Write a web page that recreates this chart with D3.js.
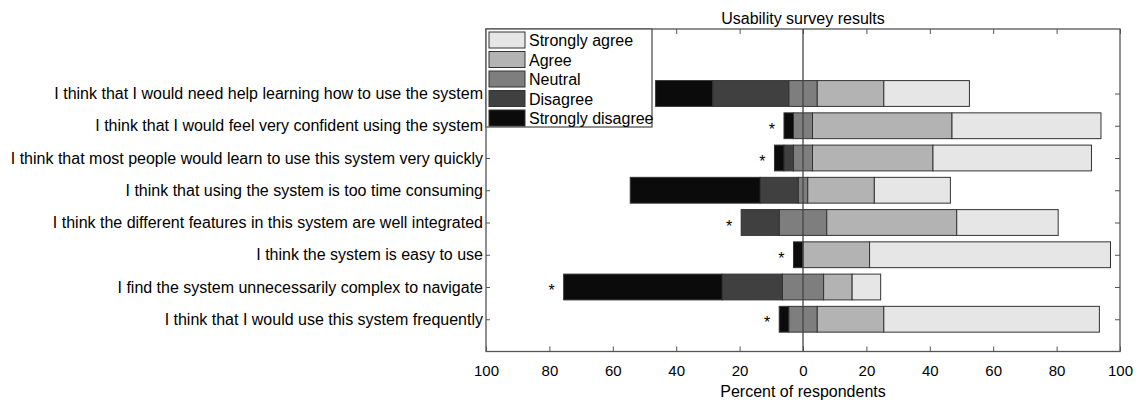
<!DOCTYPE html>
<html lang="en">
<head>
  <meta charset="utf-8" />
  <title>Usability survey results</title>
  <style>
    body {
      margin: 0;
      background: #fff;
      font-family: "Liberation Sans", Arial, sans-serif;
    }
    .bar {
      stroke: #333;
      stroke-width: 1px;
    }
    .tick line {
      stroke: #555;
    }
    .tick text {
      font-size: 15px;
      fill: #000;
    }
    .ylab .tick text {
      font-size: 16px;
    }
  </style>
</head>
<body>
<script src="https://cdn.jsdelivr.net/npm/d3@7"></script>
<script>
  // statements, top to bottom
  const statements = [
    "I think that I would need help learning how to use the system",
    "I think that I would feel very confident using the system",
    "I think that most people would learn to use this system very quickly",
    "I think that using the system is too time consuming",
    "I think the different features in this system are well integrated",
    "I think the system is easy to use",
    "I find the system unnecessarily complex to navigate",
    "I think that I would use this system frequently"
  ];

  // percent of respondents per answer, same order as statements
  const stronglyDisagree = [18, 3, 3, 41, 0, 3, 50, 3];
  const disagree         = [24, 0, 3, 12, 12, 0, 19, 0];
  const neutral          = [9, 6, 6, 3, 15, 0, 13, 9];
  const agree            = [21, 44, 38, 21, 41, 21, 9, 21];
  const stronglyAgree    = [27, 47, 50, 24, 32, 76, 9, 68];

  // rows marked with an asterisk
  const marked = [false, true, true, false, true, true, true, true];

  const answers = ["Strongly agree", "Agree", "Neutral", "Disagree", "Strongly disagree"];
  const colors = {
    "Strongly agree": "#e6e6e6",
    "Agree": "#b3b3b3",
    "Neutral": "#7e7e7e",
    "Disagree": "#404040",
    "Strongly disagree": "#0b0b0b"
  };

  const xTicks = [-100, -80, -60, -40, -20, 0, 20, 40, 60, 80, 100];

  const width = 1148;
  const height = 403;
  const plotL = 486, plotR = 1120, plotT = 29, plotB = 351.5;

  const svg = d3.select("body")
    .append("svg")
    .attr("width", width)
    .attr("height", height);

  const x = d3.scaleLinear().domain([-100, 100]).range([plotL, plotR]);
  const y = d3.scaleLinear().domain([0, 10]).range([plotB, plotT]);
  const rowPos = i => statements.length - i;
  const barH = y(0) - y(0.8);

  // build stacked segments: neutral centred on zero
  const rows = statements.map((s, i) => {
    const n = neutral[i];
    const segs = [];
    let lo = -n / 2;
    segs.push({key: "Neutral", x0: -n / 2, x1: n / 2});
    segs.push({key: "Disagree", x0: lo - disagree[i], x1: lo});
    lo -= disagree[i];
    segs.push({key: "Strongly disagree", x0: lo - stronglyDisagree[i], x1: lo});
    lo -= stronglyDisagree[i];
    let hi = n / 2;
    segs.push({key: "Agree", x0: hi, x1: hi + agree[i]});
    hi += agree[i];
    segs.push({key: "Strongly agree", x0: hi, x1: hi + stronglyAgree[i]});
    hi += stronglyAgree[i];
    return {label: s, pos: rowPos(i), segs: segs.filter(d => d.x1 > d.x0), min: lo, marked: marked[i]};
  });

  // axes (ticks point inward)
  svg.append("g")
    .attr("transform", `translate(0,${plotB})`)
    .call(d3.axisBottom(x).tickValues(xTicks).tickSize(-5).tickPadding(14).tickFormat(d => Math.abs(d)))
    .call(g => g.select(".domain").remove());

  svg.append("g")
    .attr("transform", `translate(0,${plotT})`)
    .call(d3.axisTop(x).tickValues(xTicks).tickSize(-5).tickFormat(""))
    .call(g => g.select(".domain").remove());

  svg.append("g")
    .attr("class", "ylab")
    .attr("transform", `translate(${plotL},0)`)
    .call(d3.axisLeft(y).tickValues(rows.map(r => r.pos)).tickSize(-4).tickPadding(3)
      .tickFormat(p => rows.find(r => r.pos === p).label))
    .call(g => g.select(".domain").remove());

  svg.append("g")
    .attr("transform", `translate(${plotR},0)`)
    .call(d3.axisRight(y).tickValues(rows.map(r => r.pos)).tickSize(-5).tickFormat(""))
    .call(g => g.select(".domain").remove());

  // bars
  const rowG = svg.append("g").selectAll("g")
    .data(rows)
    .join("g");

  rowG.selectAll("rect")
    .data(d => d.segs.map(s => ({...s, pos: d.pos})))
    .join("rect")
    .attr("class", "bar")
    .attr("x", d => x(d.x0))
    .attr("width", d => x(d.x1) - x(d.x0))
    .attr("y", d => y(d.pos) - barH / 2)
    .attr("height", barH)
    .attr("fill", d => colors[d.key]);

  rowG.filter(d => d.marked)
    .append("text")
    .attr("x", d => x(d.min) - 12)
    .attr("y", d => y(d.pos) + 9)
    .attr("text-anchor", "middle")
    .style("font-size", "16px")
    .text("*");

  // zero line
  svg.append("line")
    .attr("x1", x(0)).attr("x2", x(0))
    .attr("y1", plotT).attr("y2", plotB)
    .attr("stroke", "#444")
    .attr("stroke-width", 1.3);

  // box
  svg.append("rect")
    .attr("x", plotL).attr("y", plotT)
    .attr("width", plotR - plotL).attr("height", plotB - plotT)
    .attr("fill", "none")
    .attr("stroke", "#555")
    .attr("stroke-width", 1.3);

  // title and x label
  svg.append("text")
    .attr("x", x(0)).attr("y", 23.5)
    .attr("text-anchor", "middle")
    .style("font-size", "16px")
    .text("Usability survey results");

  svg.append("text")
    .attr("x", x(0)).attr("y", 397)
    .attr("text-anchor", "middle")
    .style("font-size", "16px")
    .text("Percent of respondents");

  // legend
  const legend = svg.append("g");
  legend.append("rect")
    .attr("x", plotL).attr("y", plotT)
    .attr("width", 166).attr("height", 98)
    .attr("fill", "#fff")
    .attr("stroke", "#555")
    .attr("stroke-width", 1.3);

  const item = legend.selectAll("g.item")
    .data(answers)
    .join("g")
    .attr("class", "item")
    .attr("transform", (d, i) => `translate(${plotL + 3},${plotT + 3 + i * 19.5})`);

  item.append("rect")
    .attr("width", 36).attr("height", 16)
    .attr("fill", d => colors[d])
    .attr("stroke", "#333");

  item.append("text")
    .attr("x", 40).attr("y", 14)
    .style("font-size", "16px")
    .text(d => d);
</script>
</body>
</html>
